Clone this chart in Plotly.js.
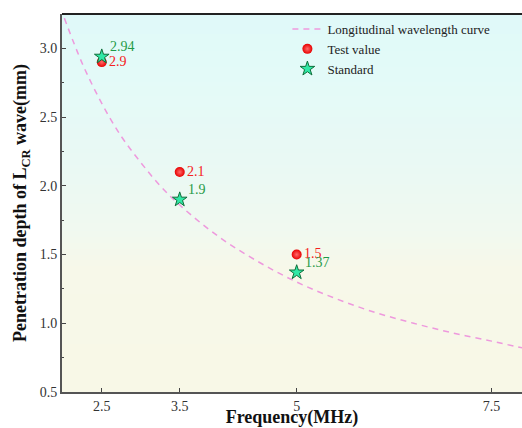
<!DOCTYPE html>
<html>
<head>
<meta charset="utf-8">
<script src="https://cdn.plot.ly/plotly-3.0.1.min.js"></script>
<style>html,body{margin:0;padding:0;background:#fff;}#chart{width:522px;height:428px;}</style>
</head>
<body>
<div id="chart"></div>
<script>
// Data
var curveFreq = [2.02, 2.25, 2.5, 2.75, 3.0, 3.25, 3.5, 4.0, 4.5, 5.0, 5.5, 6.0, 6.5, 7.0, 7.5, 7.9];
var curveDepth = [3.22, 2.89, 2.60, 2.36, 2.17, 2.00, 1.86, 1.63, 1.45, 1.30, 1.18, 1.08, 1.00, 0.93, 0.87, 0.82];
var testFreq = [2.5, 3.5, 5];
var testValue = [2.9, 2.1, 1.5];
var testLabels = ['2.9', '2.1', '1.5'];
var stdFreq = [2.5, 3.5, 5];
var stdValue = [2.94, 1.9, 1.37];
var stdLabels = ['2.94', '1.9', '1.37'];
var xTickVals = [2.5, 3.5, 5, 7.5];
var xTickText = ['2.5', '3.5', '5', '7.5'];
var bgY = [0.3, 1.4, 1.7, 2.2, 2.8, 3.4];

var serif = '"Liberation Serif", "Times New Roman", serif';

var bg = {
  type: 'heatmap',
  x: [0, 10],
  y: bgY,
  z: bgY.map(function (v) { return [v, v]; }),
  zsmooth: 'best',
  colorscale: [
    [0, '#f8f8e6'],
    [0.353, '#f7f8e9'],
    [0.45, '#f0f9f0'],
    [0.61, '#e9f9f4'],
    [0.81, '#e3faf8'],
    [1, '#def9f9']
  ],
  showscale: false,
  hoverinfo: 'skip',
  showlegend: false
};

var curve = {
  type: 'scatter',
  mode: 'lines',
  name: 'Longitudinal wavelength curve',
  x: curveFreq,
  y: curveDepth,
  line: {color: '#ee99dd', width: 1.5, dash: '6px,5px', shape: 'spline'}
};

var test = {
  type: 'scatter',
  mode: 'markers+text',
  name: 'Test value',
  x: testFreq,
  y: testValue,
  text: testLabels,
  textposition: 'middle right',
  textfont: {family: serif, size: 14, color: '#f52020'},
  marker: {symbol: 'circle', size: 10, color: '#e80000',
    gradient: {type: 'radial', color: '#ff6a6a'},
    line: {width: 0}}
};

var std = {
  type: 'scatter',
  mode: 'markers',
  name: 'Standard',
  x: stdFreq,
  y: stdValue,
  marker: {symbol: 'star', size: 11, color: '#30e8a6',
    line: {width: 1, color: '#0f6e3a'}}
};

var stdAnnotations = stdFreq.map(function (f, i) {
  return {
    x: f, y: stdValue[i], xref: 'x', yref: 'y',
    text: stdLabels[i], showarrow: false,
    xanchor: 'left', yanchor: 'middle',
    xshift: 6, yshift: 10,
    font: {family: serif, size: 14, color: '#1f9a48'}
  };
});

var layout = {
  width: 522,
  height: 428,
  margin: {l: 62, r: 0, t: 14, b: 36},
  paper_bgcolor: '#ffffff',
  plot_bgcolor: '#f4f9ef',
  font: {family: serif, size: 13, color: '#333'},
  showlegend: true,
  legend: {
    x: 0.49, y: 1.0, xanchor: 'left', yanchor: 'top',
    bgcolor: 'rgba(0,0,0,0)',
    font: {family: serif, size: 13, color: '#222'},
    tracegroupgap: 0
  },
  annotations: stdAnnotations,
  xaxis: {
    range: [1.99, 7.89],
    tickvals: xTickVals,
    ticktext: xTickText,
    ticks: 'inside',
    ticklen: 4,
    tickcolor: '#444',
    showgrid: false,
    zeroline: false,
    showline: true,
    linecolor: '#555',
    linewidth: 2,
    tickfont: {family: serif, size: 14, color: '#333'},
    title: {text: 'Frequency(MHz)', standoff: 4,
      font: {family: serif, size: 18, color: '#111', weight: 'bold'}}
  },
  yaxis: {
    range: [0.5, 3.25],
    tickvals: [0.5, 1.0, 1.5, 2.0, 2.5, 3.0],
    ticktext: ['0.5', '1.0', '1.5', '2.0', '2.5', '3.0'],
    ticks: 'inside',
    ticklen: 4,
    tickcolor: '#444',
    minor: {tickvals: [0.75, 1.25, 1.75, 2.25, 2.75, 3.25], ticks: 'inside', ticklen: 2, tickcolor: '#444'},
    showgrid: false,
    zeroline: false,
    showline: true,
    linecolor: '#555',
    linewidth: 2,
    tickfont: {family: serif, size: 14, color: '#333'},
    title: {text: 'Penetration depth of L<sub>CR</sub> wave(mm)', standoff: 8,
      font: {family: serif, size: 18, color: '#111', weight: 'bold'}}
  },
  shapes: [{
    type: 'line', xref: 'paper', yref: 'paper',
    x0: 0, x1: 1, y0: 1, y1: 1,
    line: {color: '#222', width: 2}
  }]
};

Plotly.newPlot('chart', [bg, curve, test, std], layout, {displayModeBar: false, staticPlot: true});
</script>
</body>
</html>
